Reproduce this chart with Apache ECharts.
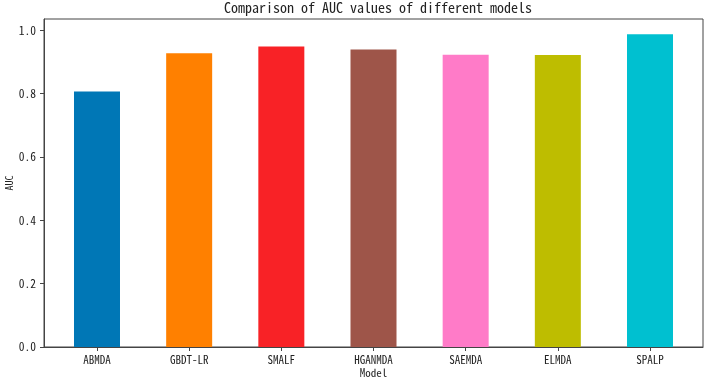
<!DOCTYPE html>
<html>
<head>
<meta charset="utf-8">
<script src="https://cdn.jsdelivr.net/npm/echarts@6/dist/echarts.min.js"></script>
<style>
  html, body { margin: 0; background: #fff; }
  #chart { width: 706px; height: 380px; }
</style>
</head>
<body>
<div id="chart"></div>
<script>
const models = ['ABMDA', 'GBDT-LR', 'SMALF', 'HGANMDA', 'SAEMDA', 'ELMDA', 'SPALP'];
const aucValues = [0.807, 0.928, 0.949, 0.940, 0.923, 0.922, 0.988];
const barColors = ['#0077b6', '#ff8000', '#f82226', '#9e5549', '#ff7bc8', '#bebd00', '#00c0d0'];
const yTicks = [0, 0.2, 0.4, 0.6, 0.8, 1.0];
const xTicks = models.map((_, i) => i);

const FONT = '"Noto Sans Mono CJK SC", "Liberation Mono", monospace';
const INK = '#222';
const FRAME = '#444';

const chart = echarts.init(document.getElementById('chart'));

chart.setOption({
  animation: false,
  title: {
    text: 'Comparison of AUC values of different models',
    left: 373,
    top: -4,
    textAlign: 'center',
    textStyle: { fontFamily: FONT, fontSize: 14, fontWeight: 'normal', color: INK },
  },
  grid: {
    left: 44,
    right: 3,
    top: 19,
    bottom: 33,
    outerBoundsMode: 'none',
    containLabel: false,
    show: true,
    borderColor: FRAME,
    borderWidth: 1,
    backgroundColor: 'transparent',
  },
  xAxis: {
    type: 'value',
    // matplotlib default margins around bars of width 0.5
    min: -0.575,
    max: 6.575,
    name: 'Model',
    nameLocation: 'middle',
    nameGap: 20,
    nameMoveOverlap: false,
    nameTextStyle: { fontFamily: FONT, fontSize: 11, color: INK },
    splitLine: { show: false },
    axisLine: { show: true, onZero: false, lineStyle: { color: FRAME } },
    axisTick: { show: true, length: 4, customValues: xTicks, lineStyle: { color: FRAME } },
    axisLabel: {
      customValues: xTicks,
      margin: 7,
      fontFamily: FONT,
      fontSize: 11,
      color: INK,
      formatter: (v) => models[Math.round(v)],
    },
  },
  yAxis: {
    type: 'value',
    min: 0,
    max: 1.036,
    name: 'AUC',
    nameLocation: 'middle',
    nameGap: 30,
    nameMoveOverlap: false,
    nameTextStyle: { fontFamily: FONT, fontSize: 10, color: INK },
    splitLine: { show: false },
    axisLine: { show: true, onZero: false, lineStyle: { color: FRAME } },
    axisTick: { show: true, length: 4, customValues: yTicks, lineStyle: { color: FRAME } },
    axisLabel: {
      customValues: yTicks,
      margin: 8,
      fontFamily: FONT,
      fontSize: 11.5,
      color: INK,
      formatter: (v) => v.toFixed(1),
    },
  },
  series: [
    {
      type: 'bar',
      barWidth: 46,
      data: aucValues.map((v, i) => ({ value: [i, v], itemStyle: { color: barColors[i] } })),
    },
  ],
});
</script>
</body>
</html>
